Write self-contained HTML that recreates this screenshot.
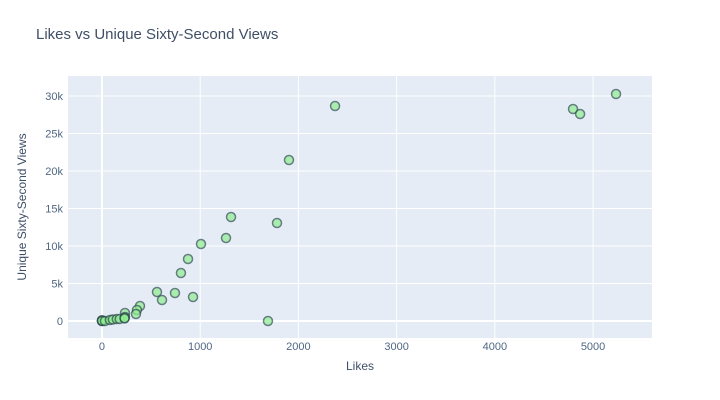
<!DOCTYPE html>
<html><head><meta charset="utf-8"><style>
body{margin:0;background:#fff;}
svg{display:block;font-family:"Liberation Sans",Arial,sans-serif;}
</style></head><body>
<svg id="chart" width="720" height="400">
<rect width="720" height="400" fill="#fff"/>
<text x="36" y="39" font-size="15" fill="#3f4f66">Likes vs Unique Sixty-Second Views</text>
<rect x="68" y="76" width="584" height="262" fill="#e5ecf6"/>
<g id="grid"></g><g id="ticks"></g><g id="marks"></g>
<text x="360" y="370" font-size="12" fill="#3f4f66" text-anchor="middle">Likes</text>
<text transform="translate(26,207) rotate(-90)" font-size="12" fill="#3f4f66" text-anchor="middle">Unique Sixty-Second Views</text>
</svg>
<script>
const likes = [2373,5234,4796,4868,1904,1314,1782,1008,1263,876,804,560,743,611,927,387,356,346,1690,234,234,0,0,0,0,30,80,110,150,180,230,230];
const views = [28667,30267,28267,27600,21467,13867,13067,10267,11067,8267,6400,3867,3733,2800,3200,2000,1467,933,0,1067,533,0,50,100,0,0,130,200,270,270,400,350];
const xTicks = [0,1000,2000,3000,4000,5000];
const yTicks = [0,5000,10000,15000,20000,25000,30000];
const yTickLabels = ["0","5k","10k","15k","20k","25k","30k"];
const NS="http://www.w3.org/2000/svg";
const L=68,R=652,T=76,B=338;
const xMin=-346,xMax=5600,yMin=-2267,yMax=32667;
function xs(v){return L+(v-xMin)/(xMax-xMin)*(R-L);}
function ys(v){return B-(v-yMin)/(yMax-yMin)*(B-T);}
function mk(tag,attrs,parent){const e=document.createElementNS(NS,tag);for(const k in attrs)e.setAttribute(k,attrs[k]);parent.appendChild(e);return e;}
const grid=document.getElementById('grid'),ticks=document.getElementById('ticks'),marks=document.getElementById('marks');
xTicks.forEach((t,i)=>{
 const l=mk('line',{x1:xs(t),x2:xs(t),y1:T,y2:B,stroke:'#fff','stroke-width':t===0?2:1},grid);
 
 
 const tx=mk('text',{x:xs(t),y:350,'font-size':11,fill:'#506784','text-anchor':'middle'},ticks);
 tx.textContent=String(t);
 
 
});
yTicks.forEach((t,i)=>{
 const l=mk('line',{x1:L,x2:R,y1:ys(t),y2:ys(t),stroke:'#fff','stroke-width':t===0?2:1},grid);
 
 
 const tx=mk('text',{x:63,y:ys(t)+4,'font-size':11,fill:'#506784','text-anchor':'end'},ticks);
 tx.textContent=yTickLabels[i];
 
 
});
likes.forEach((v,i)=>{
 const c=mk('circle',{cx:xs(v),cy:ys(views[i]),r:4.5,fill:'#90ee90',opacity:0.7,stroke:'#2f4f4f','stroke-width':1.5},marks);
 
 
});
</script>
</body></html>
